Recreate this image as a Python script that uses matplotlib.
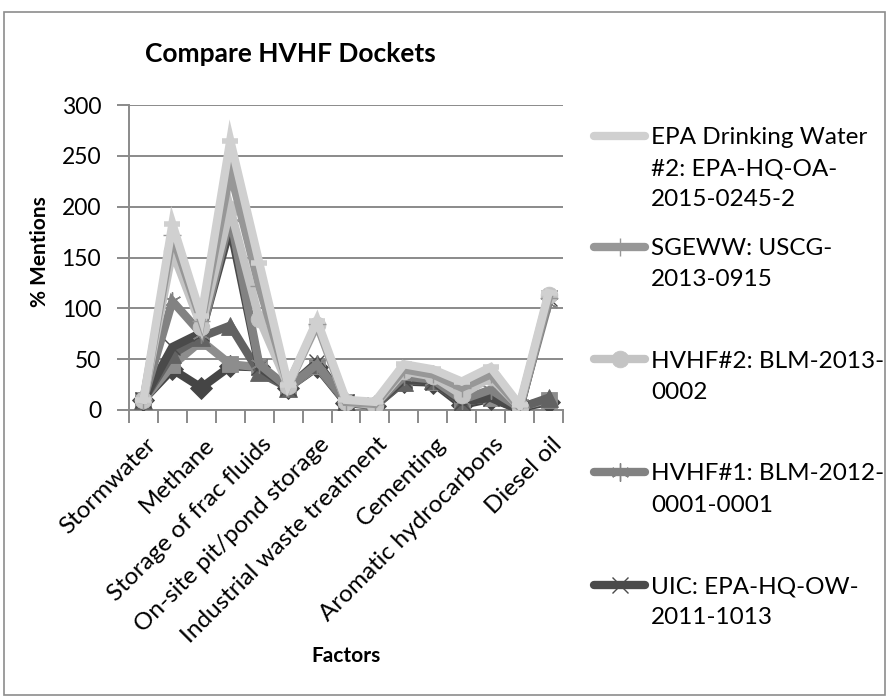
import numpy as np
import matplotlib.pyplot as plt
from matplotlib.lines import Line2D
from matplotlib.patches import Rectangle
from matplotlib.transforms import ScaledTranslation

plt.rcParams['font.family'] = ['Lato', 'DejaVu Sans']

W, H = 889, 700

# factor categories, only every second one is labelled on the axis
factor_labels = ["Stormwater", "Methane", "Storage of frac fluids",
                 "On-site pit/pond storage", "Industrial waste treatment",
                 "Cementing", "Aromatic hydrocarbons", "Diesel oil"]
n_factors = 15

# % mentions per docket
other_a = [10, 40, 22, 43, 42, 22, 42, 7, 4, 28, 27, 5, 11, 2, 8]
other_b = [10, 44, 68, 45, 42, 22, 43, 8, 4, 30, 28, 8, 12, 3, 10]
other_c = [10, 55, 72, 83, 37, 22, 45, 8, 5, 28, 30, 7, 18, 2, 12]
uic = [10, 62, 76, 180, 42, 22, 47, 8, 5, 30, 28, 8, 12, 0, 110]
hvhf1 = [10, 107, 75, 190, 45, 22, 45, 8, 5, 33, 30, 10, 20, 2, 105]
hvhf2 = [10, 156, 82, 198, 90, 24, 84, 8, 5, 38, 33, 15, 32, 3, 113]
sgeww = [10, 172, 88, 235, 122, 25, 85, 8, 6, 40, 35, 22, 35, 3, 110]
epa_dw2 = [10, 183, 92, 265, 145, 25, 88, 10, 8, 45, 40, 28, 42, 5, 115]

series = [
    (other_a, None, '#454545', 'D', 11),
    (other_b, None, '#8d8d8d', 's', 12),
    (other_c, None, '#626262', '^', 13),
    (uic, ["UIC: EPA-HQ-OW-", "2011-1013"], '#4a4a4a', 'x', 12),
    (hvhf1, ["HVHF#1: BLM-2012-", "0001-0001"], '#828282', (6, 2, 0), 13),
    (hvhf2, ["HVHF#2: BLM-2013-", "0002"], '#c4c4c4', 'o', 12),
    (sgeww, ["SGEWW: USCG-", "2013-0915"], '#979797', '+', 13),
    (epa_dw2, ["EPA Drinking Water", "#2: EPA-HQ-OA-", "2015-0245-2"], '#d0d0d0', '_', 12),
]


def fx(x):
    return x / W


def fy(y):
    return 1 - y / H


def marker_style(color, marker, ms):
    if marker == '_':
        mew = 4
    elif marker in ('x', '+', (6, 2, 0)):
        mew = 1.0
    else:
        mew = 0.6
    return dict(marker=marker, markersize=ms, markerfacecolor=color,
                markeredgecolor=color, markeredgewidth=mew)


fig = plt.figure(figsize=(W / 100, H / 100), dpi=100)
fig.add_artist(Rectangle((fx(4), fy(695)), fx(881), 683 / H, transform=fig.transFigure,
                         fill=False, edgecolor='#8c8c8c', linewidth=1.2))

ax = fig.add_axes([fx(129), fy(410), fx(563 - 129), (410 - 105) / H])
x = np.arange(n_factors)

for vals, name, color, marker, ms in series:
    ax.plot(x, vals, color=color, linewidth=6, solid_joinstyle='miter', zorder=3,
            **marker_style(color, marker, ms))

ax.set_xlim(-0.5, n_factors - 0.5)
ax.set_ylim(0, 300)
ax.set_yticks(np.arange(0, 301, 50))
ax.grid(axis='y', color='#8a8a8a', linewidth=1.4)
ax.set_axisbelow(True)
for side in ('top', 'right'):
    ax.spines[side].set_visible(False)
for side in ('left', 'bottom'):
    ax.spines[side].set_color('#8a8a8a')
    ax.spines[side].set_linewidth(1.4)

ax.set_xticks(np.arange(-0.5, n_factors, 1))
ax.set_xticklabels([])
ax.set_xticks(np.arange(0, n_factors, 2), minor=True)
ax.set_xticklabels(factor_labels, minor=True, rotation=45, ha='right', va='top',
                   rotation_mode='anchor', fontsize=17.5)
ax.tick_params(axis='x', which='major', length=9, width=1.4, color='#8a8a8a')
ax.tick_params(axis='x', which='minor', length=0, pad=17)
ax.tick_params(axis='y', length=9, width=1.4, color='#8a8a8a', labelsize=16.5, pad=11)
shift = ScaledTranslation(2 / 100, 0, fig.dpi_scale_trans)
for lab in ax.get_xticklabels(minor=True):
    lab.set_transform(lab.get_transform() + shift)

fig.text(fx(290), fy(54), "Compare HVHF Dockets", fontsize=19, fontweight='bold',
         ha='center', va='center')
fig.text(fx(40), fy(252), "% Mentions", fontsize=15, fontweight='bold',
         rotation=90, ha='center', va='center')
fig.text(fx(346), fy(656), "Factors", fontsize=15, fontweight='bold',
         ha='center', va='center')

# legend drawn entry by entry, newest docket on top
first_line_y = [136, 247, 359, 472, 585]
line_pitch = 31
named = [s for s in series if s[1] is not None][::-1]
for (vals, lines, color, marker, ms), ly in zip(named, first_line_y):
    fig.add_artist(Line2D([fx(594), fx(645)], [fy(ly), fy(ly)], transform=fig.transFigure,
                          color=color, linewidth=6, solid_capstyle='round'))
    fig.add_artist(Line2D([fx(619.5)], [fy(ly)], transform=fig.transFigure,
                          color=color, **marker_style(color, marker, ms)))
    for k, line in enumerate(lines):
        fig.text(fx(651), fy(ly + 2 + k * line_pitch), line, fontsize=17.5,
                 ha='left', va='center')

fig.savefig("out.png", dpi=100)
